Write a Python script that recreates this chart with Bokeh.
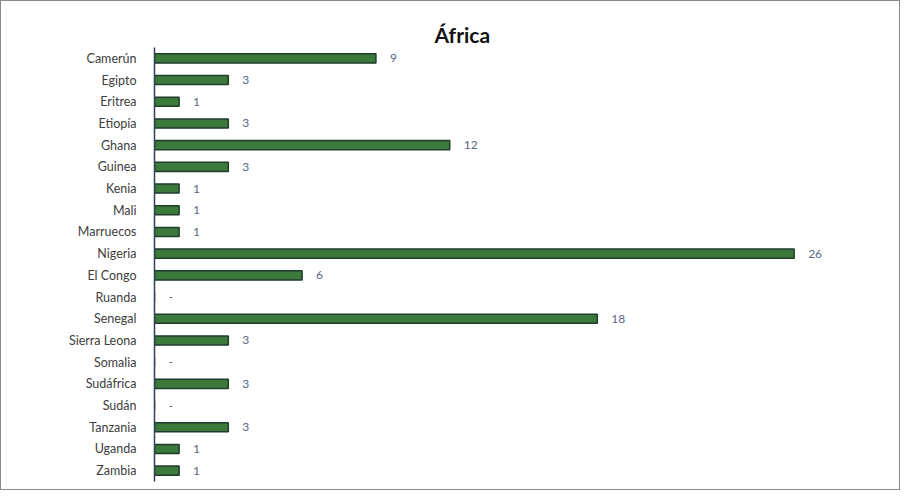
from bokeh.plotting import figure
from bokeh.models import ColumnDataSource, FactorRange, LabelSet, Title
from bokeh.core.properties import value
from bokeh.embed import file_html
from bokeh.resources import INLINE

countries = ["Camerún", "Egipto", "Eritrea", "Etiopía", "Ghana", "Guinea", "Kenia", "Mali",
             "Marruecos", "Nigeria", "El Congo", "Ruanda", "Senegal", "Sierra Leona", "Somalia",
             "Sudáfrica", "Sudán", "Tanzania", "Uganda", "Zambia"]
values = [9, 3, 1, 3, 12, 3, 1, 1, 1, 26, 6, 0, 18, 3, 0, 3, 0, 3, 1, 1]
labels = [str(v) if v > 0 else "-" for v in values]

src = ColumnDataSource(dict(c=countries, v=values, t=labels))

p = figure(width=900, height=490, output_backend="svg", toolbar_location=None,
           y_range=FactorRange(*reversed(countries), range_padding=0),
           x_range=(0, 29.55), min_border_left=153, min_border_right=20,
           min_border_top=46, min_border_bottom=10)
p.styles = {"border": "1px solid #8a8a8a"}
p.outline_line_color = None
p.grid.visible = False
p.xaxis.visible = False

p.add_layout(Title(text="África", align="left", offset=280, text_font="Lato",
                   text_font_style="bold", text_font_size="21px", text_color="#111111",
                   standoff=2), "above")

p.hbar(y="c", right="v", left=0, height=0.42, source=src,
       fill_color="#3c7a3c", line_color="#1f3b2c", line_width=1.5)

p.add_layout(LabelSet(x="v", y="c", text="t", source=src, x_offset=14, y_offset=0,
                      text_baseline="middle", text_align="left", text_font=value("Lato"),
                      text_font_size="12px", text_color="#5a6785"))

ax = p.yaxis[0]
ax.axis_line_color = "#2f4256"
ax.axis_line_width = 1.5
ax.major_tick_line_color = None
ax.minor_tick_line_color = None
ax.major_label_text_font = "Lato"
ax.major_label_text_font_size = "12.5px"
ax.major_label_text_color = "#404040"
ax.major_label_standoff = 12

open("out.html", "w").write(file_html(p, INLINE))
